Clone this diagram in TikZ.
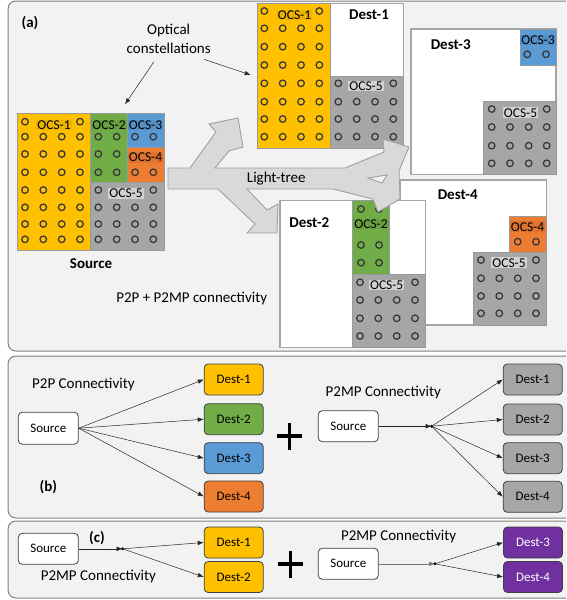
\documentclass[tikz,border=0pt]{standalone}
\usepackage{fontspec}
\setmainfont{Carlito}
\usetikzlibrary{arrows.meta,calc}
\definecolor{ocsY}{HTML}{FFC000}
\definecolor{ocsG}{HTML}{70AD47}
\definecolor{ocsB}{HTML}{5B9BD5}
\definecolor{ocsO}{HTML}{ED7D31}
\definecolor{ocsGr}{HTML}{A6A6A6}
\definecolor{ocsP}{HTML}{7030A0}
\definecolor{panelbg}{HTML}{F2F2F2}
\definecolor{panelbd}{HTML}{808080}
\definecolor{regbd}{HTML}{999999}
\definecolor{arrfill}{HTML}{D9D9D9}
\definecolor{arrbd}{HTML}{A0A0A0}
\newcommand{\myfs}[1]{\fontsize{#1}{#1}\selectfont}
\tikzset{
  panel/.style={draw=panelbd, fill=panelbg, rounded corners=8pt, line width=1pt},
  ocsdot/.style={draw=black!78, line width=1.25pt},
  region/.style={draw=regbd, line width=0.8pt},
  destbox/.style={draw=ocsGr, fill=white, line width=1.2pt},
  ocsl/.style={font=\myfs{13.5}, inner sep=1pt},
  dlabel/.style={font=\bfseries\myfs{15}},
  plain/.style={font=\myfs{15}},
  box/.style={draw=black!75, rounded corners=4pt, minimum width=59pt, minimum height=31pt, line width=0.8pt, font=\myfs{13}, inner sep=0pt},
  conn/.style={-{Latex[length=6pt,width=4.5pt]}, line width=0.5pt, draw=black!85},
  plusbar/.style={line width=3.5pt, draw=black},
}
\begin{document}
\begin{tikzpicture}[x=1pt,y=-1pt]
\useasboundingbox (0,0) rectangle (566,600);
\clip (0,0) rectangle (566,600);

% panels
\draw[panel] (8,1) rectangle (600,351);
\draw[panel] (8,356) rectangle (600,518);
\draw[panel] (8,521) rectangle (600,598);

% ---------- Source grid ----------
\draw[region, fill=ocsY] (17.3,113.3) rectangle (90.7,250.7);
\draw[region, fill=ocsG] (90.7,113.3) rectangle (127.7,182.3);
\draw[region, fill=ocsB] (127.7,113.3) rectangle (164,147.7);
\draw[region, fill=ocsO] (127.7,147.7) rectangle (164,182.3);
\draw[region, fill=ocsGr] (90.7,182.3) rectangle (164,250.7);
\foreach \y in {136.7,154,172.3,190,207.3,224,239.3}
  \foreach \x in {25,43.3,61.7,80} \draw[ocsdot] (\x,\y) circle[radius=3.3pt];
\foreach \x in {25,80} \draw[ocsdot] (\x,121.7) circle[radius=3.3pt];
\foreach \y in {136.7,154,172.3}
  \foreach \x in {98.3,116.7} \draw[ocsdot] (\x,\y) circle[radius=3.3pt];
\foreach \x in {135,153.3} \draw[ocsdot] (\x,136.7) circle[radius=3.3pt];
\foreach \x in {135,153.3} \draw[ocsdot] (\x,172.3) circle[radius=3.3pt];
\foreach \x in {98.3,153.3} \draw[ocsdot] (\x,190) circle[radius=3.3pt];
\foreach \y in {207.3,224,239.3}
  \foreach \x in {98.3,116.7,135,153.3} \draw[ocsdot] (\x,\y) circle[radius=3.3pt];
\node[ocsl, fill=ocsY!93!black] (sl1) at (54,125) {OCS-1};
\node[ocsl, fill=ocsG!93!black] (sl2) at (109,125) {OCS-2};
\node[ocsl, fill=ocsB!93!black] (sl3) at (145.5,125) {OCS-3};
\node[ocsl, fill=ocsO!93!black] (sl4) at (145.5,157.3) {OCS-4};
\node[ocsl, fill=black!18] (sl5) at (126,193.3) {OCS-5};
\node[dlabel] (srcl) at (91,263.3) {Source};

% ---------- Dest-1 ----------
\draw[destbox] (257.3,3.3) rectangle (403.3,148.3);
\draw[region, fill=ocsY] (257.3,3.3) rectangle (330.7,148.3);
\draw[region, fill=ocsGr] (330.7,76) rectangle (403.3,148.3);
\foreach \y in {28.3,46.7,65,83.3,101.7,119,136.7}
  \foreach \x in {264.3,282.7,301,319.3} \draw[ocsdot] (\x,\y) circle[radius=3.3pt];
\foreach \x in {264.3,319.3} \draw[ocsdot] (\x,11) circle[radius=3.3pt];
\foreach \x in {338.3,393.3} \draw[ocsdot] (\x,83.3) circle[radius=3.3pt];
\foreach \y in {101.7,119,136.7}
  \foreach \x in {338.3,356.7,375,393.3} \draw[ocsdot] (\x,\y) circle[radius=3.3pt];
\node[ocsl, fill=ocsY!93!black] (d1l1) at (294.5,15) {OCS-1};
\node[ocsl, fill=black!18] (d1l5) at (366,86) {OCS-5};
\node[dlabel] (d1name) at (369,15) {Dest-1};

% ---------- Dest-3 ----------
\draw[destbox] (411,29) rectangle (556,174.3);
\draw[region, fill=ocsB] (520,29) rectangle (556,65);
\draw[region, fill=ocsGr] (483.3,101.7) rectangle (556,174.3);
\foreach \x in {527.3,546} \draw[ocsdot] (\x,54.3) circle[radius=3.3pt];
\foreach \x in {491.7,546.7} \draw[ocsdot] (\x,109) circle[radius=3.3pt];
\foreach \y in {127,145.7,163.3}
  \foreach \x in {491.7,510,528.7,546.7} \draw[ocsdot] (\x,\y) circle[radius=3.3pt];
\node[ocsl, fill=ocsB!93!black] (d3l3) at (538,40) {OCS-3};
\node[ocsl, fill=black!18] (d3l5) at (520.5,112.7) {OCS-5};
\node[dlabel] (d3name) at (450.7,44.3) {Dest-3};

% ---------- Dest-4 ----------
\draw[destbox] (400.7,180) rectangle (546.7,325);
\draw[region, fill=ocsO] (509.3,216.7) rectangle (546.7,252.7);
\draw[region, fill=ocsGr] (473.3,252.7) rectangle (546.7,325);
\foreach \x in {517.7,536} \draw[ocsdot] (\x,241.7) circle[radius=3.3pt];
\foreach \x in {481,536} \draw[ocsdot] (\x,260) circle[radius=3.3pt];
\foreach \y in {278.3,296,313.3}
  \foreach \x in {481,499.3,517.7,536} \draw[ocsdot] (\x,\y) circle[radius=3.3pt];
\node[ocsl, fill=ocsO!93!black] (d4l4) at (527.5,226.7) {OCS-4};
\node[ocsl, fill=black!18] (d4l5) at (509,262.7) {OCS-5};
\node[dlabel] (d4name) at (457.7,194.3) {Dest-4};

% ---------- Dest-2 ----------
\draw[destbox] (280,200.7) rectangle (425.7,347.3);
\draw[region, fill=ocsG] (352.7,200.7) rectangle (389.3,274);
\draw[region, fill=ocsGr] (352.7,274) rectangle (425.7,347.3);
\foreach \y in {209,245,262.7}
  \foreach \x in {361,379} \draw[ocsdot] (\x,\y) circle[radius=3.3pt];
\foreach \x in {360,415} \draw[ocsdot] (\x,282.3) circle[radius=3.3pt];
\foreach \y in {300,318.3,336}
  \foreach \x in {360,378.3,396.7,415} \draw[ocsdot] (\x,\y) circle[radius=3.3pt];
\node[ocsl, fill=ocsG!93!black] (d2l2) at (371,224) {OCS-2};
\node[ocsl, fill=black!18] (d2l5) at (386.7,285) {OCS-5};
\node[dlabel] (d2name) at (309.3,222.7) {Dest-2};

% ---------- Light-tree arrow ----------
\draw[fill=arrfill, draw=arrbd, line width=0.9pt, line join=miter]
  (168,168) -- (190,168) -- (216,132) -- (209,124) -- (238,118) -- (243,147) -- (229,151) -- (215,168)
  -- (345,168) -- (384,152) -- (383,139) -- (409,147) -- (399,171) -- (400,199) -- (378,212) -- (373,199)
  -- (333,189) -- (247,189) -- (267,210) -- (278,204) -- (277,233) -- (247,233) -- (255,224) -- (218,189)
  -- (168,189) -- cycle;
\draw[fill=panelbg, draw=arrbd, line width=0.9pt] (368,178) -- (387,175) -- (382,183) -- cycle;
\node[plain] (lt) at (276.3,179) {Light-tree};

% ---------- texts of panel (a) ----------
\node[dlabel] (pa) at (30,23.3) {(a)};
\node[plain, align=center, font=\fontsize{15}{19}\selectfont] (optc) at (168.7,39) {Optical\\constellations};
\coordinate (oc1s) at (154,61.7);
\coordinate (oc1e) at (125,104.3);
\coordinate (oc2s) at (204,59.3);
\coordinate (oc2e) at (250.7,75);
\draw[conn] (oc1s) -- (oc1e);
\draw[conn] (oc2s) -- (oc2e);
\node[plain] (p2pmp) at (191.7,298.3) {P2P + P2MP connectivity};

% ---------- panel (b) ----------
\node[plain] (bt1) at (83.4,384.3) {P2P Connectivity};
\node[box, fill=white, minimum width=60pt, minimum height=32pt] (bs1) at (48.3,428.2) {Source};
\node[box, fill=ocsY] (bd1) at (233.7,379.5) {Dest-1};
\node[box, fill=ocsG] (bd2) at (233.7,419.2) {Dest-2};
\node[box, fill=ocsB] (bd3) at (233.7,458.2) {Dest-3};
\node[box, fill=ocsO] (bd4) at (233.7,496.5) {Dest-4};
\foreach \d in {bd1,bd2,bd3,bd4} \draw[conn] (bs1.east) -- (\d.west);
\node[dlabel] (pb) at (48.3,486.7) {(b)};
\draw[plusbar] (277,436) -- (302,436);
\draw[plusbar] (289.5,422.5) -- (289.5,450);

\node[plain] (bt2) at (383.3,392.7) {P2MP Connectivity};
\node[box, fill=white, minimum width=60pt] (bs2) at (348.3,426.2) {Source};
\node[box, fill=ocsGr] (be1) at (532.7,379.5) {Dest-1};
\node[box, fill=ocsGr] (be2) at (532.7,419.5) {Dest-2};
\node[box, fill=ocsGr] (be3) at (532.7,458.2) {Dest-3};
\node[box, fill=ocsGr] (be4) at (532.7,496.8) {Dest-4};
\coordinate (bj) at (431.7,426.2);
\draw[conn] (bs2.east) -- (bj);
\fill (bj) circle[radius=1.6pt];
\foreach \d in {be1,be2,be3,be4} \draw[conn] (bj) -- (\d.west);

% ---------- panel (c) ----------
\node[box, fill=white, minimum width=60pt] (cs1) at (48.3,548.8) {Source};
\node[dlabel] (pc) at (97,538.3) {(c)};
\node[plain] (ct1) at (98.4,576.7) {P2MP Connectivity};
\node[box, fill=ocsY] (cd1) at (233.7,542.5) {Dest-1};
\node[box, fill=ocsY] (cd2) at (233.7,577) {Dest-2};
\coordinate (cj1) at (122.7,548.8);
\draw[conn] (cs1.east) -- (cj1);
\fill (cj1) circle[radius=1.6pt];
\draw[conn] (cj1) -- (cd1.west);
\draw[conn] (cj1) -- (cd2.west);
\draw[plusbar] (278,564) -- (303,564);
\draw[plusbar] (290.5,551) -- (290.5,577.5);

\node[plain] (ct2) at (398.6,536.7) {P2MP Connectivity};
\node[box, fill=white, minimum width=60pt] (cs2) at (348.3,563.8) {Source};
\node[box, fill=ocsP, text=white] (cd3) at (533,542.5) {Dest-3};
\node[box, fill=ocsP, text=white] (cd4) at (533,577) {Dest-4};
\coordinate (cj2) at (435,563.8);
\draw[conn, draw=black!55] (cs2.east) -- (cj2);
\fill (cj2) circle[radius=1.6pt];
\draw[conn] (cj2) -- (cd3.west);
\draw[conn] (cj2) -- (cd4.west);
\end{tikzpicture}
\end{document}
